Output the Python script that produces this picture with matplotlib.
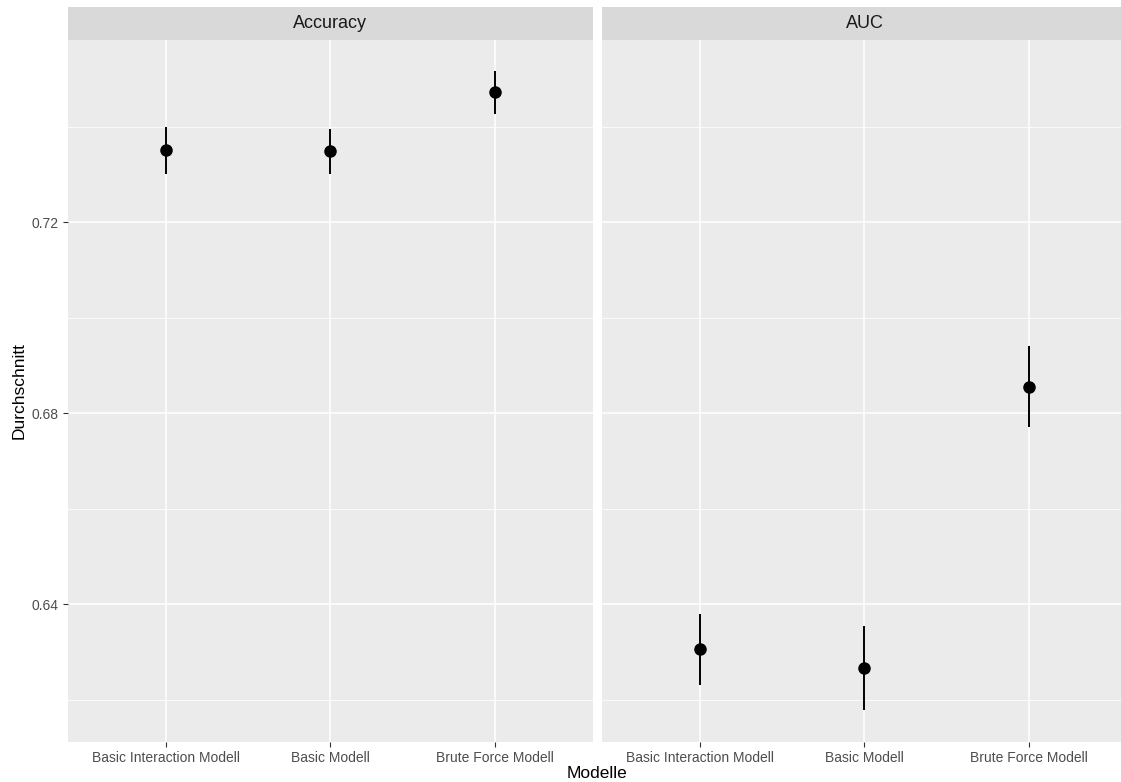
import matplotlib
matplotlib.use("Agg")
import matplotlib.pyplot as plt
import numpy as np

plt.rcParams['font.family'] = ['Liberation Sans', 'DejaVu Sans']

models = ["Basic Interaction Modell", "Basic Modell", "Brute Force Modell"]
metrics = ["Accuracy", "AUC"]
acc_mean = [0.7351, 0.7349, 0.7472]
acc_low = [0.7302, 0.7302, 0.7426]
acc_high = [0.7400, 0.7395, 0.7516]
auc_mean = [0.6306, 0.6267, 0.6855]
auc_low = [0.6232, 0.6178, 0.6772]
auc_high = [0.6380, 0.6354, 0.6940]

means = [acc_mean, auc_mean]
lows = [acc_low, auc_low]
highs = [acc_high, auc_high]

W, H = 1121, 782
fig = plt.figure(figsize=(W / 100, H / 100), dpi=100)

def fx(px):
    return px / W

def fy(py):
    return 1 - py / H

panel_top, panel_bot = 39.5, 742.3
strip_top = 7.3
pw = 525.5
panels_x = [(67.7, 67.7 + pw), (601.7, 601.7 + pw)]

ymin, ymax = 0.6111, 0.7583
major = [0.64, 0.68, 0.72]
minor = [0.62, 0.66, 0.70, 0.74]

for i, (x0, x1) in enumerate(panels_x):
    ax = fig.add_axes([fx(x0), fy(panel_bot), fx(x1 - x0), (panel_bot - panel_top) / H])
    ax.set_facecolor("#EBEBEB")
    for s in ax.spines.values():
        s.set_visible(False)
    ax.set_xlim(0.4, 3.6)
    ax.set_ylim(ymin, ymax)
    for m in minor:
        ax.axhline(m, color="white", lw=0.55, zorder=0)
    for m in major:
        ax.axhline(m, color="white", lw=1.1, zorder=0)
    xs = np.arange(1, len(models) + 1)
    for xv in xs:
        ax.axvline(xv, color="white", lw=1.1, zorder=0)
    ax.vlines(xs, lows[i], highs[i], color="black", lw=1.4, zorder=3)
    ax.plot(xs, means[i], "o", color="black", markersize=8, zorder=4)
    ax.set_xticks(xs)
    ax.set_xticklabels(models, fontsize=10, color="#4D4D4D")
    ax.tick_params(axis="both", length=3.5, width=0.8, color="#333333", pad=3)
    if i == 0:
        ax.set_yticks(major)
        ax.set_yticklabels([f"{v:.2f}" for v in major], fontsize=10, color="#4D4D4D")
    else:
        ax.set_yticks(major)
        ax.tick_params(axis="y", length=0, labelleft=False)
    # strip
    sax = fig.add_axes([fx(x0), fy(panel_top), fx(x1 - x0), (panel_top - strip_top) / H])
    sax.set_facecolor("#D9D9D9")
    sax.set_xticks([])
    sax.set_yticks([])
    for s in sax.spines.values():
        s.set_visible(False)
    sax.text(0.5, 0.5, metrics[i], ha="center", va="center", fontsize=13,
             color="#1A1A1A", transform=sax.transAxes)

fig.text(fx((panels_x[0][0] + panels_x[1][1]) / 2), fy(773), "Modelle", ha="center",
         va="center", fontsize=12.5)
fig.text(fx(19), fy((panel_top + panel_bot) / 2), "Durchschnitt", ha="center", va="center",
         rotation=90, fontsize=12.5)

fig.savefig("out.png", dpi=100, facecolor="white")
